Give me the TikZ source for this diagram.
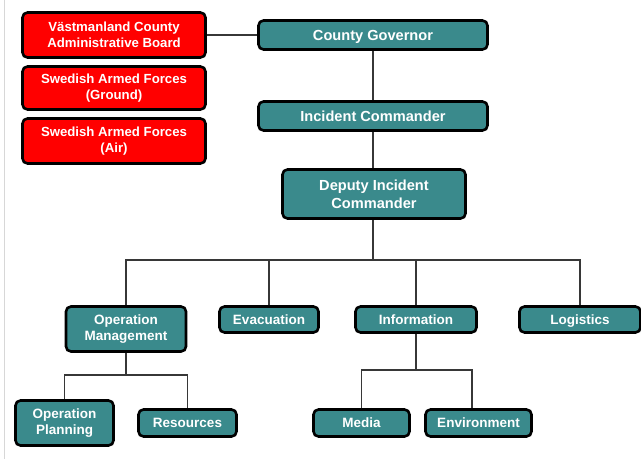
\documentclass[tikz,border=0pt]{standalone}
\usepackage{fontspec}
\setmainfont{Liberation Sans}
\definecolor{boxteal}{RGB}{58,138,140}
\definecolor{boxred}{RGB}{255,0,0}
\definecolor{wire}{RGB}{55,55,55}
\definecolor{edgegray}{RGB}{215,215,215}
\begin{document}
\begin{tikzpicture}[x=1pt,y=-1pt,
  orgbox/.style={draw=black, line width=2.6pt, rounded corners=5pt,
    fill=boxteal, text=white, align=center, inner sep=0pt,
    font=\bfseries\fontsize{14.6}{18}\selectfont},
  lowbox/.style={orgbox, font=\bfseries\fontsize{13.5}{16.2}\selectfont},
  topline/.style={text height=10.4pt, text depth=0pt},
  lowline/.style={text height=9.7pt, text depth=0pt},
  extbox/.style={orgbox, fill=boxred, font=\bfseries\fontsize{13.2}{16}\selectfont},
  wirestyle/.style={draw=wire, line width=1.2pt}]
\useasboundingbox (0,0) rectangle (641,459);
\fill[white] (0,0) rectangle (641,459);
% thin page edge on the left
\draw[edgegray, line width=0.8pt] (4,0) -- (4,459);

% external agencies
\node[extbox, minimum width=183pt, minimum height=45pt] (vast) at (114,35) {Västmanland County\\Administrative Board};
\node[extbox, minimum width=183pt, minimum height=43pt] (sag) at (114,88) {Swedish Armed Forces\\(Ground)};
\node[extbox, minimum width=183pt, minimum height=45pt] (saa) at (114,141) {Swedish Armed Forces\\(Air)};

% command chain
\node[orgbox, topline, minimum width=229pt, minimum height=29pt] (gov) at (373,35) {County Governor};
\node[orgbox, topline, minimum width=229pt, minimum height=29pt] (ic) at (373,116) {Incident Commander};
\node[orgbox, minimum width=183pt, minimum height=49pt] (dic) at (374,194) {Deputy Incident\\Commander};

% sections
\node[lowbox, minimum width=120pt, minimum height=45pt] (om) at (126,329) {Operation\\Management};
\node[lowbox, lowline, minimum width=99pt, minimum height=26pt] (ev) at (269,319.5) {Evacuation};
\node[lowbox, lowline, minimum width=121pt, minimum height=26pt] (inf) at (416,319.5) {Information};
\node[lowbox, lowline, minimum width=121pt, minimum height=26pt] (log) at (580,319.5) {Logistics};

% sub-sections
\node[lowbox, minimum width=98pt, minimum height=45pt] (op) at (64.5,423) {Operation\\Planning};
\node[lowbox, lowline, minimum width=98pt, minimum height=27pt] (res) at (187.5,423) {Resources};
\node[lowbox, lowline, minimum width=96pt, minimum height=27pt] (med) at (361.5,423) {Media};
\node[lowbox, lowline, minimum width=106pt, minimum height=27pt] (env) at (478.5,423) {Environment};

% junction points
\coordinate (bus) at (373,260);
\coordinate (ombus) at (126,375);
\coordinate (infbus) at (416,370);
\coordinate (envdrop) at (472,0);

% connectors
\draw[wirestyle] (vast.east) -- (gov.west);
\draw[wirestyle] (gov.south) -- (ic.north);
\draw[wirestyle] (ic.south) -- (dic.north -| ic.south);
\draw[wirestyle] (dic.south -| bus) -- (bus);
\draw[wirestyle] (bus) -| (om.north);
\draw[wirestyle] (bus) -| (ev.north);
\draw[wirestyle] (bus) -| (inf.north);
\draw[wirestyle] (bus) -| (log.north);
\draw[wirestyle] (om.south) -- (ombus);
\draw[wirestyle] (ombus) -| (op.north);
\draw[wirestyle] (ombus) -| (res.north);
\draw[wirestyle] (inf.south) -- (infbus);
\draw[wirestyle] (infbus) -| (med.north);
\draw[wirestyle] (infbus) -| (envdrop |- env.north);
\end{tikzpicture}
\end{document}
